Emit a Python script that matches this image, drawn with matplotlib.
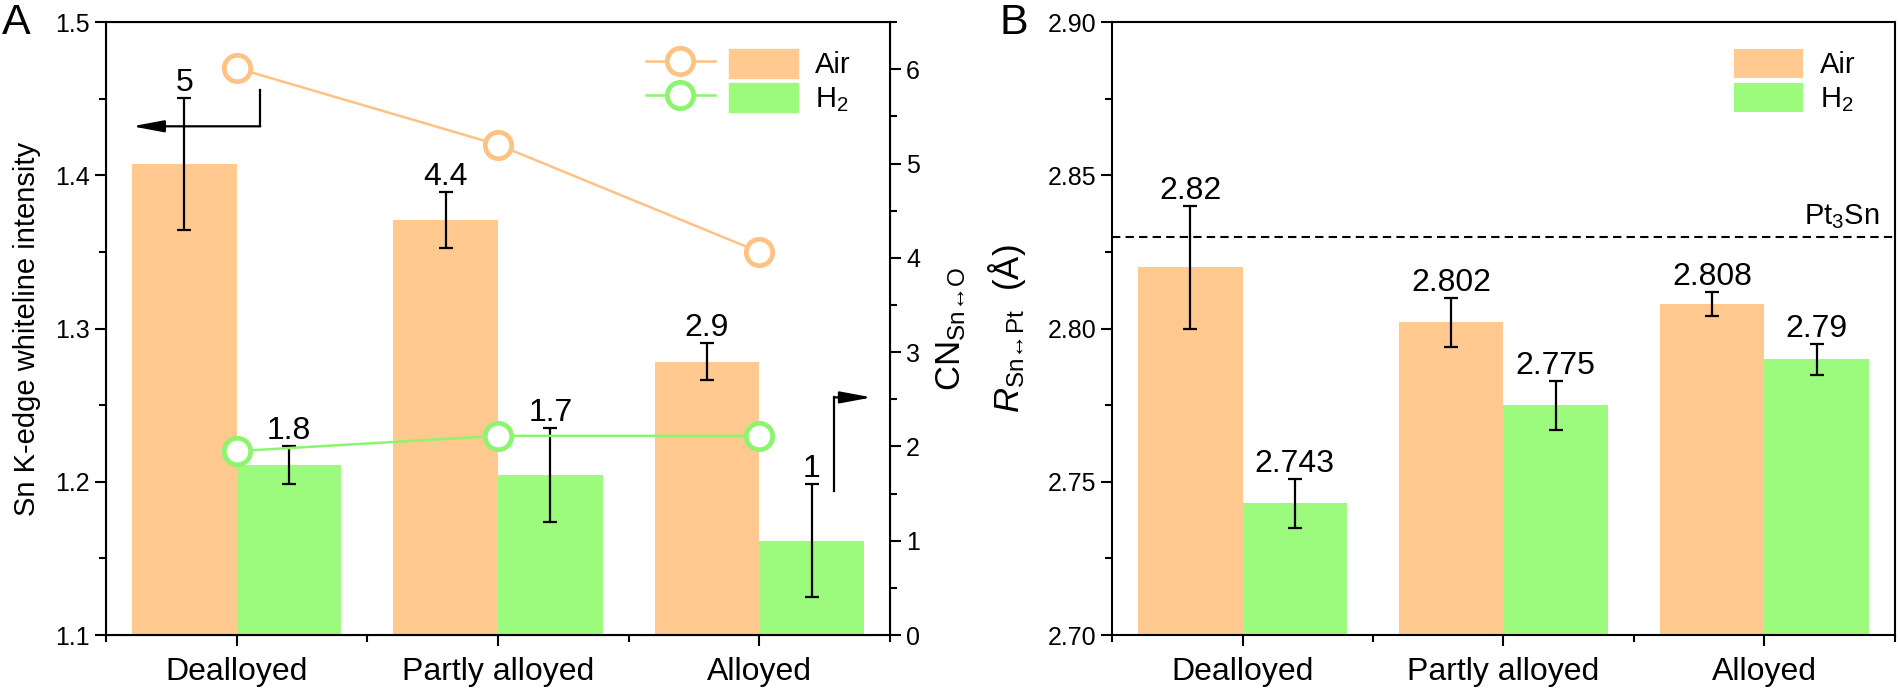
import numpy as np
import matplotlib.pyplot as plt
from matplotlib.legend_handler import HandlerTuple
from matplotlib.patches import Patch
from matplotlib.ticker import MultipleLocator, FormatStrFormatter

plt.rcParams['font.family'] = ['Liberation Sans', 'DejaVu Sans']
plt.rcParams['mathtext.fontset'] = 'custom'
plt.rcParams['mathtext.rm'] = 'Liberation Sans'
plt.rcParams['mathtext.it'] = 'Liberation Sans:italic'

# data
categories = ['Dealloyed', 'Partly alloyed', 'Alloyed']
cn_air = [5.0, 4.4, 2.9]
cn_air_err = [0.7, 0.3, 0.2]
cn_h2 = [1.8, 1.7, 1.0]
cn_h2_err = [0.2, 0.5, 0.6]
cn_air_lbl = ['5', '4.4', '2.9']
cn_h2_lbl = ['1.8', '1.7', '1']
wl_air = [1.470, 1.420, 1.350]
wl_h2 = [1.220, 1.230, 1.230]

r_air = [2.820, 2.802, 2.808]
r_air_err = [0.020, 0.008, 0.004]
r_h2 = [2.743, 2.775, 2.790]
r_h2_err = [0.008, 0.008, 0.005]
r_air_lbl = ['2.82', '2.802', '2.808']
r_h2_lbl = ['2.743', '2.775', '2.79']
r_pt3sn = 2.83

c_air = '#FFC98F'
c_h2 = '#9CFB7C'
c_air_line = '#FFC285'
c_h2_line = '#8DF46E'

x = np.arange(1, 4)
w = 0.4
tick_fs = 18
lbl_fs = 23
leg_fs = 21

fig = plt.figure(figsize=(19, 6.91), dpi=100)
axA = fig.add_axes([0.0558, 0.081, 0.4126, 0.887])
axR = axA.twinx()
axB = fig.add_axes([0.5853, 0.081, 0.412, 0.887])

# ---- panel A: bars on right axis (CN), lines on left axis
axR.bar(x - w / 2, cn_air, w, color=c_air, edgecolor='none')
axR.bar(x + w / 2, cn_h2, w, color=c_h2, edgecolor='none')
axR.errorbar(x - w / 2, cn_air, yerr=cn_air_err, fmt='none', ecolor='k',
             elinewidth=1.6, capsize=5, capthick=1.6)
axR.errorbar(x + w / 2, cn_h2, yerr=cn_h2_err, fmt='none', ecolor='k',
             elinewidth=1.6, capsize=5, capthick=1.6)
for xi, v, e, s in zip(x - w / 2, cn_air, cn_air_err, cn_air_lbl):
    axR.text(xi, v + e, s, ha='center', va='bottom', fontsize=lbl_fs)
for xi, v, e, s in zip(x + w / 2, cn_h2, cn_h2_err, cn_h2_lbl):
    axR.text(xi, v + e, s, ha='center', va='bottom', fontsize=lbl_fs)
axR.set_ylim(0, 6.5)
axR.yaxis.set_major_locator(MultipleLocator(1))
axR.yaxis.set_minor_locator(MultipleLocator(0.5))
axR.set_ylabel(r'CN$_{\mathrm{Sn↔O}}$', fontsize=25)
axR.yaxis.set_label_coords(1.057, 0.5)

la, = axA.plot(x, wl_air, '-o', color=c_air_line, lw=1.8, ms=19, mew=3.4,
               mfc='white', mec=c_air_line)
lh, = axA.plot(x, wl_h2, '-o', color=c_h2_line, lw=1.8, ms=19, mew=3.4,
               mfc='white', mec=c_h2_line)
axA.set_zorder(axR.get_zorder() + 1)
axA.patch.set_visible(False)
axA.set_ylim(1.1, 1.5)
axA.yaxis.set_major_locator(MultipleLocator(0.1))
axA.yaxis.set_minor_locator(MultipleLocator(0.05))
axA.set_ylabel('Sn K-edge whiteline intensity', fontsize=21)
axA.yaxis.set_label_coords(-0.083, 0.5)

# arrows showing which axis
axA.plot([1.09, 1.09], [1.456, 1.432], color='k', lw=1.6)
axA.annotate('', xy=(0.60, 1.432), xytext=(1.09, 1.432),
             arrowprops=dict(arrowstyle='-|>,head_length=1.6,head_width=0.3',
                             mutation_scale=12, color='k', lw=1.6,
                             shrinkA=0, shrinkB=0))
axR.plot([3.286, 3.286], [1.53, 2.52], color='k', lw=1.6)
axR.annotate('', xy=(3.43, 2.52), xytext=(3.286, 2.52),
             arrowprops=dict(arrowstyle='-|>,head_length=1.6,head_width=0.3',
                             mutation_scale=12, color='k', lw=1.6,
                             shrinkA=0, shrinkB=0))

pa = Patch(color=c_air)
ph = Patch(color=c_h2)
axA.legend([(la, pa), (lh, ph)], ['Air', 'H$_2$'],
           handler_map={tuple: HandlerTuple(ndivide=None, pad=0.5)},
           loc='upper right', bbox_to_anchor=(0.965, 0.975), frameon=False,
           fontsize=leg_fs, handlelength=5.2, handleheight=1.15,
           labelspacing=0.12, handletextpad=0.6, borderaxespad=0)

# ---- panel B
axB.bar(x - w / 2, r_air, w, color=c_air, edgecolor='none', label='Air')
axB.bar(x + w / 2, r_h2, w, color=c_h2, edgecolor='none', label='H$_2$')
axB.errorbar(x - w / 2, r_air, yerr=r_air_err, fmt='none', ecolor='k',
             elinewidth=1.6, capsize=5, capthick=1.6)
axB.errorbar(x + w / 2, r_h2, yerr=r_h2_err, fmt='none', ecolor='k',
             elinewidth=1.6, capsize=5, capthick=1.6)
for xi, v, e, s in zip(x - w / 2, r_air, r_air_err, r_air_lbl):
    axB.text(xi, v + e, s, ha='center', va='bottom', fontsize=lbl_fs)
for xi, v, e, s in zip(x + w / 2, r_h2, r_h2_err, r_h2_lbl):
    axB.text(xi, v + e, s, ha='center', va='bottom', fontsize=lbl_fs)
axB.axhline(r_pt3sn, color='k', lw=1.5, ls=(0, (4, 2.5)))
axB.text(3.44, r_pt3sn + 0.002, 'Pt$_3$Sn', ha='right', va='bottom', fontsize=21)
axB.set_ylim(2.70, 2.90)
axB.yaxis.set_major_locator(MultipleLocator(0.05))
axB.yaxis.set_minor_locator(MultipleLocator(0.025))
axB.yaxis.set_major_formatter(FormatStrFormatter('%.2f'))
axB.set_ylabel(r'$R_{\mathrm{Sn↔Pt}}$  (Å)', fontsize=25)
axB.yaxis.set_label_coords(-0.108, 0.5)
axB.legend(loc='upper right', bbox_to_anchor=(0.965, 0.975), frameon=False,
           fontsize=leg_fs, handlelength=2.35, handleheight=1.15,
           labelspacing=0.12, handletextpad=0.6, borderaxespad=0)

for ax in (axA, axB):
    ax.set_xlim(0.5, 3.5)
    ax.set_xticks(x)
    ax.set_xticklabels(categories, fontsize=lbl_fs)
    ax.xaxis.set_minor_locator(MultipleLocator(0.5))
    ax.tick_params(axis='x', which='major', length=8, width=1.5, pad=8)
    ax.tick_params(axis='x', which='minor', length=5, width=1.5)
    ax.tick_params(axis='y', which='major', length=8, width=1.5, labelsize=tick_fs)
    ax.tick_params(axis='y', which='minor', length=5, width=1.5)
    ax.tick_params(top=False, which='both')
    for sp in ax.spines.values():
        sp.set_linewidth(1.5)
axB.tick_params(right=False, which='both')
axR.tick_params(axis='y', which='major', length=8, width=1.5, labelsize=tick_fs)
axR.tick_params(axis='y', which='minor', length=5, width=1.5)
axA.tick_params(right=False, which='both')
axR.tick_params(left=False, which='both')

fig.text(0.001, 0.995, 'A', fontsize=31, va='top', ha='left')
fig.text(0.526, 0.995, 'B', fontsize=31, va='top', ha='left')

fig.savefig('out.png', dpi=100)
